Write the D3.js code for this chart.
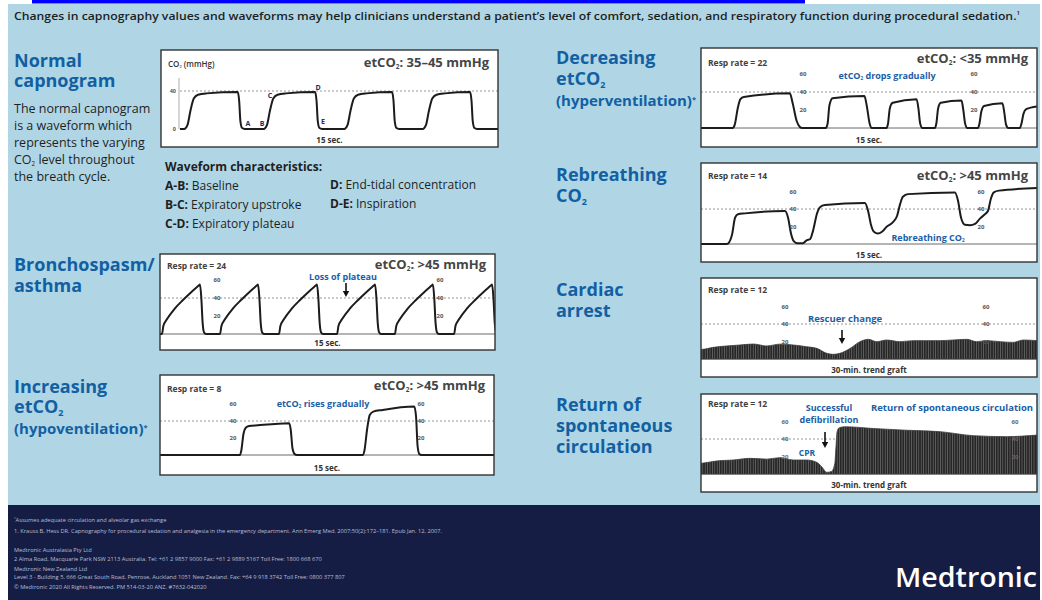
<!DOCTYPE html>
<html><head><meta charset="utf-8">
<script src="https://cdn.jsdelivr.net/npm/d3@7"></script>
<style>
html,body{margin:0;padding:0;background:#fff;}
svg{display:block;font-family:"Open Sans","Noto Sans",sans-serif;}
</style></head><body>
<svg id="c" width="1042" height="600"></svg>
<script>
// ---------------- DATA ----------------
const headerText = "Changes in capnography values and waveforms may help clinicians understand a patient’s level of comfort, sedation, and respiratory function during procedural sedation.¹";
const tickValues = [60, 40, 20];
const normalTicks = [40, 0];
const stripLabels = ["15 sec.", "30-min. trend graft"];

// time (s), CO2 (mmHg)
const normalWave = [[0,0],[0.2,0],[0.35,4],[0.5,20],[0.65,32],[0.85,36],[1.25,37.5],[2.72,39],[2.79,30],[2.85,8],[2.93,1],[3.05,0],
 [3.95,0],[4.1,4],[4.25,20],[4.4,32],[4.6,36],[5.0,37.5],[6.37,39],[6.44,30],[6.5,8],[6.58,1],[6.7,0],
 [7.75,0],[7.9,4],[8.05,20],[8.2,32],[8.4,36],[8.8,37.5],[10.0,39],[10.07,30],[10.13,8],[10.21,1],[10.33,0],
 [11.45,0],[11.6,4],[11.75,20],[11.9,32],[12.1,36],[12.5,37.5],[13.68,39],[13.75,30],[13.81,8],[13.89,1],[14.01,0],[15,0]];

const bronchoWave = [[0,0],
 [0.09,0],[0.15,9],[0.30,16],[0.67,28.5],[1.04,38],[1.42,47],[1.72,53.5],[1.79,55],[1.85,40],[1.91,12],[1.97,2],[2.06,0],
 [2.69,0],[2.75,9],[2.90,16],[3.27,28.5],[3.64,38],[4.02,47],[4.32,53.5],[4.39,55],[4.45,40],[4.51,12],[4.57,2],[4.66,0],
 [5.33,0],[5.39,9],[5.54,16],[5.91,28.5],[6.28,38],[6.66,47],[6.96,53.5],[7.03,55],[7.09,40],[7.15,12],[7.21,2],[7.30,0],
 [7.93,0],[7.99,9],[8.14,16],[8.51,28.5],[8.88,38],[9.26,47],[9.56,53.5],[9.63,55],[9.69,40],[9.75,12],[9.81,2],[9.90,0],
 [10.52,0],[10.58,9],[10.73,16],[11.10,28.5],[11.47,38],[11.85,47],[12.15,53.5],[12.22,55],[12.28,40],[12.34,12],[12.40,2],[12.49,0],
 [13.17,0],[13.23,9],[13.38,16],[13.75,28.5],[14.12,38],[14.50,47],[14.80,53.5],[14.87,55],[14.93,40],[14.99,12],[15.05,2],[15.14,0]];

const increasingWave = [[0,0],[3.59,0],[3.65,5],[3.75,25],[3.85,32],[4.0,34],[4.4,35],[5.8,37.5],[5.87,30],[5.95,8],[6.05,1],[6.15,0],
 [9.1,0],[9.18,5],[9.3,30],[9.42,47],[9.58,51],[10.0,53],[11.42,57],[11.5,45],[11.57,10],[11.65,1],[11.75,0],[15,0]];

const decreasingWave = [[0,0],[1.45,0],[1.55,4],[1.68,22],[1.8,32],[1.95,34.5],[4.0,38.5],[4.12,28],[4.3,8],[4.45,1],[4.55,0],
 [5.6,0],[5.68,5],[5.76,25],[5.9,33],[7.32,35.5],[7.42,25],[7.55,5],[7.65,0],
 [8.3,0],[8.37,5],[8.45,22],[8.58,28],[9.64,32],[9.72,22],[9.8,5],[9.9,0],
 [10.45,0],[10.52,5],[10.6,22],[10.72,28],[11.64,30.5],[11.72,20],[11.8,5],[11.9,0],
 [12.37,0],[12.44,5],[12.52,18],[12.64,24.5],[13.46,27.5],[13.54,18],[13.62,4],[13.72,0],
 [14.24,0],[14.31,5],[14.4,16],[14.52,21],[15,24]];

const rebreathingWave = [[0,0],[1.2,0],[1.42,10],[1.56,30],[1.69,34],[2.0,35],[3.78,37.7],[3.92,30],[4.05,12],[4.18,3],[4.32,1],[4.58,1],[4.76,4.5],[4.9,5.5],
 [5.03,15],[5.21,35],[5.34,42],[5.56,44.5],[7.34,47],[7.48,38],[7.61,22],[7.74,14],[7.92,12],[8.1,14],[8.32,20],[8.59,25],[8.77,32],[8.9,45],[9.03,54],[9.26,57],
 [11.35,59],[11.48,50],[11.62,30],[11.79,22],[12.02,21.5],[12.24,23],[12.46,29],[12.68,34],[12.82,38],[12.95,52],[13.08,59],[13.3,61],[15,64]];

// time (min), etCO2 (mmHg)
const cardiacTrend = [[0,11],[0.15,11],[1.19,13.3],[2.37,14.9],[3.56,16],[4.75,17.1],[5.94,14.9],[7.12,17],[8.31,16],[9.5,14],[10.39,12.2],[11.28,6.5],[11.87,5.3],[12.46,6.5],[13.35,12],[14.24,19.8],[14.99,22.5],[15.73,19.8],[16.62,21.7],[17.8,19.8],[18.99,21],[20.18,21],[21.36,21],[22.55,21.7],[23.74,22.5],[24.63,19.8],[25.52,21],[26.71,19.8],[27.89,19],[28.78,21.7],[30,21]];

const roscTrend = [[0,12],[0.15,12.2],[1.48,14.9],[2.97,16],[4.45,17.9],[5.93,17],[7.12,18.7],[8.31,16],[9.5,16],[10.39,13.3],[10.83,8.4],[11.28,1.9],[11.72,3],[12.0,12],[12.1,30],[12.2,48],[12.4,53],[12.91,54],[15.43,52],[18.4,50],[21.36,48.4],[24.33,43.8],[27.3,42.7],[30,44.5]];

const footerLines = [
 "*Assumes adequate circulation and alveolar gas exchange",
 "1. Krauss B, Hess DR. Capnography for procedural sedation and analgesia in the emergency department. Ann Emerg Med. 2007;50(2):172–181. Epub Jan. 12, 2007.",
 "Medtronic Australasia Pty Ltd",
 "2 Alma Road, Macquarie Park NSW 2113 Australia. Tel: +61 2 9857 9000 Fax: +61 2 9889 5167 Toll Free: 1800 668 670",
 "Medtronic New Zealand Ltd",
 "Level 3 - Building 5, 666 Great South Road, Penrose, Auckland 1051 New Zealand. Fax: +64 9 918 3742 Toll Free: 0800 377 807",
 "© Medtronic 2020 All Rights Reserved. PM 514-03-20 ANZ. #7632-042020"];

// ---------------- STYLE ----------------
const C = {bg:"#b0d6e6", navy:"#151d45", head:"#1260a2", text:"#1f1f1f", label:"#404040", anno:"#1b5ea6", line:"#1c1c1c"};
const svg = d3.select("#c");
const defs = svg.append("defs");
const pat = defs.append("pattern").attr("id","stripes").attr("patternUnits","userSpaceOnUse").attr("width",2.4).attr("height",10);
pat.append("rect").attr("width",2.4).attr("height",10).attr("fill","#262626");
pat.append("rect").attr("x",1.8).attr("width",0.6).attr("height",10).attr("fill","#7a7a7a");

function rich(t, str, fs){
  const toks = str.split(/([₂¹*])/).filter(s=>s!=="");
  let cur = 0;
  toks.forEach(tok=>{
    let target=0, txt=tok, small=false;
    if(tok==="₂"){target=fs*0.16;txt="2";small=true;}
    else if(tok==="¹"){target=-fs*0.42;txt="1";small=true;}
    else if(tok==="*"){target=-fs*0.3;txt="*";small=true;}
    const ts=t.append("tspan").attr("dy",target-cur).text(txt);
    if(small) ts.attr("font-size",fs*0.5);
    cur=target;
  });
  return t;
}
function txt(g,x,y,str,fs,opt={}){
  const t=g.append("text").attr("x",x).attr("y",y).attr("font-size",fs)
    .attr("font-weight",opt.w||400).attr("fill",opt.c||C.text).attr("text-anchor",opt.a||"start");
  if(opt.len) t.attr("textLength",opt.len).attr("lengthAdjust","spacingAndGlyphs");
  rich(t,str,fs);
  return t;
}

// background
svg.append("rect").attr("x",8).attr("y",4).attr("width",1032).attr("height",501).attr("fill",C.bg);
svg.append("rect").attr("x",8).attr("y",505).attr("width",1032).attr("height",95).attr("fill",C.navy);
svg.append("rect").attr("x",32).attr("y",0).attr("width",773).attr("height",3.5).attr("fill","#0000ff");

txt(svg,14,20,headerText,11.5,{w:600,c:"#1e1e1e",len:1006});

// headings
const headings = [
 {x:14,lines:[["Normal",67,18],["capnogram",87,18]]},
 {x:14,lines:[["Bronchospasm/",271,18],["asthma",292,18]]},
 {x:14,lines:[["Increasing",393,18],["etCO₂",413,18],["(hypoventilation)*",434,15]]},
 {x:556,lines:[["Decreasing",64,18],["etCO₂",85,18],["(hyperventilation)*",106,15]]},
 {x:556,lines:[["Rebreathing",181,18],["CO₂",202,18]]},
 {x:556,lines:[["Cardiac",296,18],["arrest",317,18]]},
 {x:556,lines:[["Return of",411,18],["spontaneous",432,18],["circulation",453,18]]}
];
headings.forEach(h=>h.lines.forEach(l=>txt(svg,h.x,l[1],l[0],l[2],{w:700,c:C.head})));

// body text
["The normal capnogram","is a waveform which","represents the varying","CO₂ level throughout","the breath cycle."]
 .forEach((s,i)=>txt(svg,14,113+i*17,s,12.5,{c:C.text}));

txt(svg,165,171,"Waveform characteristics:",12,{w:700});
const chars=[["A-B:"," Baseline",165,190],["B-C:"," Expiratory upstroke",165,209],["C-D:"," Expiratory plateau",165,228],["D:"," End-tidal concentration",330,189],["D-E:"," Inspiration",330,208]];
chars.forEach(c=>{
  const t=svg.append("text").attr("x",c[2]).attr("y",c[3]).attr("font-size",12).attr("fill",C.text);
  t.append("tspan").attr("font-weight",700).text(c[0]);
  t.append("tspan").text(c[1]);
});

// ---------------- PANELS ----------------
let clipId=0;
function panel(cfg){
  const g=svg.append("g");
  const [bx0,by0,bx1,by1]=cfg.box;
  g.append("rect").attr("x",bx0).attr("y",by0).attr("width",bx1-bx0).attr("height",by1-by0).attr("fill","#fff");
  const x=d3.scaleLinear().domain(cfg.xd).range(cfg.xr);
  const y=d3.scaleLinear().domain(cfg.yd).range(cfg.yr);
  const id="clip"+(clipId++);
  defs.append("clipPath").attr("id",id).append("rect").attr("x",bx0).attr("y",by0).attr("width",bx1-bx0).attr("height",by1-by0);
  const inner=g.append("g").attr("clip-path",`url(#${id})`);
  if(!cfg.noBase) inner.append("line").attr("x1",bx0).attr("x2",bx1).attr("y1",y(0)).attr("y2",y(0)).attr("stroke","#6a6a6a").attr("stroke-width",1);
  inner.append("line").attr("x1",cfg.dotFrom||bx0).attr("x2",bx1).attr("y1",y(40)).attr("y2",y(40))
    .attr("stroke","#8a8a8a").attr("stroke-width",0.9).attr("stroke-dasharray","2,2");
  if(cfg.wave){
    inner.append("path").datum(cfg.wave).attr("fill","none").attr("stroke",C.line).attr("stroke-width",2)
      .attr("stroke-linejoin","round")
      .attr("d",d3.line().x(d=>x(d[0])).y(d=>y(d[1])).curve(d3.curveMonotoneX));
  }
  if(cfg.trend){
    inner.append("path").datum(cfg.trend).attr("fill","url(#stripes)").attr("stroke","#3a3a3a").attr("stroke-width",0.8)
      .attr("d",d3.area().x(d=>x(d[0])).y0(y(0)).y1(d=>y(d[1])).curve(d3.curveMonotoneX));
  }
  (cfg.tickCols||[]).forEach(cx=>{
    tickValues.forEach(v=>{
      g.append("text").attr("x",cx).attr("y",y(v)+2).attr("text-anchor","middle").attr("font-size",6)
        .attr("font-weight",700).attr("fill",cfg.tickFill||"#555").text(v);
    });
  });
  g.append("rect").attr("x",bx0).attr("y",by0).attr("width",bx1-bx0).attr("height",by1-by0)
    .attr("fill","none").attr("stroke","#333").attr("stroke-width",1.4);
  txt(g,(bx0+bx1)/2,by1-4.5,cfg.strip,8,{w:700,c:"#333",a:"middle"});
  if(cfg.resp) txt(g,bx0+7,cfg.respY,cfg.resp,8.5,{w:700,c:C.label});
  if(cfg.et) txt(g,bx1-9,cfg.etY,cfg.et,13,{w:700,c:"#454545",a:"end"});
  return {g,x,y};
}
function arrow(g,x,y1,y2){
  g.append("line").attr("x1",x).attr("x2",x).attr("y1",y1).attr("y2",y2-5).attr("stroke","#111").attr("stroke-width",1.6);
  g.append("path").attr("d",`M${x-3.2},${y2-6}L${x+3.2},${y2-6}L${x},${y2}Z`).attr("fill","#111");
}

// Normal
const pn=panel({box:[161,50,498,147],xr:[180,498],xd:[0,15],yd:[0,40],yr:[129,91],wave:normalWave,noBase:true,dotFrom:180,
  strip:stripLabels[0],et:"etCO₂: 35–45 mmHg",etY:67});
pn.g.append("line").attr("x1",179).attr("x2",179).attr("y1",78).attr("y2",129).attr("stroke","#999").attr("stroke-width",0.8);
normalTicks.forEach(v=>pn.g.append("text").attr("x",176).attr("y",pn.y(v)+2).attr("text-anchor","end").attr("font-size",5.5).attr("font-weight",700).attr("fill","#555").text(v));
txt(pn.g,168,67,"CO₂ (mmHg)",8,{w:600,c:"#333"});
[["A",248,126],["B",262,126],["C",270,98],["D",318,90],["E",323,124]].forEach(l=>
  pn.g.append("text").attr("x",l[1]).attr("y",l[2]).attr("text-anchor","middle").attr("font-size",7).attr("font-weight",700).attr("fill","#1d2a6a").text(l[0]));

// Bronchospasm
const pb=panel({box:[160,254,495,350],xr:[160,495],xd:[0,15],yd:[0,60],yr:[334,280],wave:bronchoWave,tickCols:[217,440],
  strip:stripLabels[0],resp:"Resp rate = 24",respY:269,et:"etCO₂: >45 mmHg",etY:269});
txt(pb.g,343,280,"Loss of plateau",9,{w:700,c:C.anno,a:"middle"});
arrow(pb.g,346,283,297);

// Increasing
const pi=panel({box:[160,375,494,475],xr:[160,494],xd:[0,15],yd:[0,60],yr:[455,404],wave:increasingWave,tickCols:[233,421],
  strip:stripLabels[0],resp:"Resp rate = 8",respY:392,et:"etCO₂: >45 mmHg",etY:390});
txt(pi.g,323,407,"etCO₂ rises gradually",9,{w:700,c:C.anno,a:"middle"});

// Decreasing
const pd=panel({box:[701,48,1037,147],xr:[700,1037],xd:[0,15],yd:[0,60],yr:[128,74],wave:decreasingWave,tickCols:[803,974],
  strip:stripLabels[0],resp:"Resp rate = 22",respY:66,et:"etCO₂: <35 mmHg",etY:63});
txt(pd.g,887,79,"etCO₂ drops gradually",9,{w:700,c:C.anno,a:"middle"});

// Rebreathing
const pr=panel({box:[701,163,1037,262],xr:[700,1037],xd:[0,15],yd:[0,60],yr:[244,191.5],wave:rebreathingWave,tickCols:[793,981],
  strip:stripLabels[0],resp:"Resp rate = 14",respY:179,et:"etCO₂: >45 mmHg",etY:180});
txt(pr.g,928,241,"Rebreathing CO₂",9,{w:700,c:C.anno,a:"middle"});

// Cardiac arrest
const pc=panel({box:[701,278,1037,377],xr:[700,1037],xd:[0,30],yd:[0,60],yr:[359,306.5],trend:cardiacTrend,tickCols:[785,986],
  strip:stripLabels[1],resp:"Resp rate = 12",respY:293});
txt(pc.g,845,322,"Rescuer change",9.5,{w:700,c:C.anno,a:"middle"});
arrow(pc.g,842,330,344);

// ROSC
const ps=panel({box:[701,394,1037,492],xr:[700,1037],xd:[0,30],yd:[0,60],yr:[474,421.5],trend:roscTrend,tickCols:[785,1015],tickFill:"#666",
  strip:stripLabels[1],resp:"Resp rate = 12",respY:407});
txt(ps.g,829,411,"Successful",9,{w:700,c:C.anno,a:"middle"});
txt(ps.g,829,422.5,"defibrillation",9,{w:700,c:C.anno,a:"middle"});
txt(ps.g,952,411,"Return of spontaneous circulation",9.5,{w:700,c:C.anno,a:"middle"});
txt(ps.g,807,456,"CPR",8.5,{w:700,c:C.anno,a:"middle"});
arrow(ps.g,825,432,448);

// footer
const fy=[522,533,552,561,571,579,589];
footerLines.forEach((s,i)=>txt(svg,14,fy[i],s,5.7,{c:"#b9bdd0"}));
svg.append("text").attr("x",895).attr("y",587).attr("font-size",27).attr("font-weight",600).attr("fill","#fff")
  .attr("textLength",142).attr("lengthAdjust","spacingAndGlyphs").text("Medtronic");
</script>
</body></html>
